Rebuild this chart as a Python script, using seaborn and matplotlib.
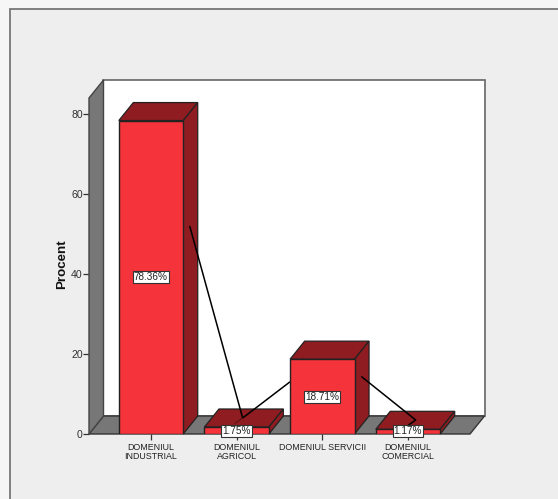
import seaborn as sns
import matplotlib.pyplot as plt
from matplotlib.patches import Polygon, Rectangle
import pandas as pd

categories = ['DOMENIUL\nINDUSTRIAL', 'DOMENIUL\nAGRICOL', 'DOMENIUL SERVICII', 'DOMENIUL\nCOMERCIAL']
values = [78.36, 1.75, 18.71, 1.17]
labels = ['78.36%', '1.75%', '18.71%', '1.17%']
yticks = [0, 20, 40, 60, 80]

# leader lines between labels, in axis units
leader_a_x = [0.453, 1.07, 1.62]
leader_a_y = [51.9, 4.0, 13.0]
leader_b_x = [2.46, 3.09, 3.01]
leader_b_y = [14.3, 3.5, 2.3]
leader_c_x = [1.07, 0.98]
leader_c_y = [4.0, 2.7]

W, H = 558, 499
BG = '#eeeeee'
RED = '#f4333a'
DARK = '#8f1c20'
GREY = '#777777'

sns.set_theme(style='white')
plt.rcParams['font.family'] = ['Liberation Sans', 'DejaVu Sans']

fig = plt.figure(figsize=(W / 100, H / 100), dpi=100, facecolor='#f6f6f6')
fig.add_artist(Rectangle((9.5 / W, -0.1), 1.1, 1.1 - 9.5 / H, transform=fig.transFigure,
                         facecolor=BG, edgecolor='#777777', lw=1.3, zorder=-1))

ax = fig.add_axes([89 / W, 1 - 434 / H, 381 / W, 336 / H])
ax.patch.set_alpha(0)

df = pd.DataFrame({'cat': categories, 'val': values})
sns.barplot(data=df, x='cat', y='val', color=RED, saturation=1, width=0.752,
            edgecolor='#222222', linewidth=1, ax=ax, zorder=5)
ax.set_xlim(-0.724, 3.724)
ax.set_ylim(0, 84)

# depth of the fake 3D box, in data units
dx = 14.5 / (381 / 4.448)
dy = 18 / 4
x0, x1 = ax.get_xlim()
y0, y1 = ax.get_ylim()

def face(pts, color, z, ec='#444444', lw=1):
    ax.add_patch(Polygon(pts, closed=True, facecolor=color, edgecolor=ec, lw=lw,
                         zorder=z, clip_on=False))

bars = list(ax.patches)
face([(x0 + dx, y0 + dy), (x1 + dx, y0 + dy), (x1 + dx, y1 + dy), (x0 + dx, y1 + dy)], 'white', 1, '#666666', 1.2)
face([(x0, y0), (x1, y0), (x1 + dx, y0 + dy), (x0 + dx, y0 + dy)], GREY, 2, '#333333', 1)
face([(x0, y0), (x0 + dx, y0 + dy), (x0 + dx, y1 + dy), (x0, y1)], GREY, 2, '#444444', 1)

hw = 0.752 / 2
for i, v in enumerate(values):
    l, r = i - hw, i + hw
    face([(l, v), (r, v), (r + dx, v + dy), (l + dx, v + dy)], DARK, 4, '#222222', 0.9)
    face([(r, 0), (r + dx, dy), (r + dx, v + dy), (r, v)], DARK, 4, '#222222', 0.9)

ax.plot(leader_a_x, leader_a_y, color='black', lw=1.1, zorder=6, clip_on=False)
ax.plot(leader_b_x, leader_b_y, color='black', lw=1.1, zorder=6, clip_on=False)
ax.plot(leader_c_x, leader_c_y, color='#5a1215', lw=0.8, zorder=6, clip_on=False)
# the third bar hides the line that passes behind it
bars[2].set_zorder(7)

for i, (v, t) in enumerate(zip(values, labels)):
    ax.text(i, max(v / 2, 0.7), t, ha='center', va='center', fontsize=7.2, color='#222222', zorder=9,
            bbox=dict(boxstyle='square,pad=0.1', facecolor='white', edgecolor='#333333', lw=0.8))

ax.set_yticks(yticks)
ax.set_xticks(range(4))
ax.set_xticklabels(categories, fontsize=6.4, color='#222222', linespacing=0.95)
ax.tick_params(axis='y', labelsize=7.6, labelcolor='#333333', length=4, width=0.9, color='#333333', pad=0.5, left=True)
ax.tick_params(axis='x', length=4.5, width=0.9, color='#333333', pad=2.2, bottom=True)
ax.set_xlabel('')
ax.set_ylabel('Procent', fontsize=9.6, fontweight='bold', color='#111111', labelpad=2.5, y=0.505)
sns.despine(ax=ax, left=True, bottom=True, top=True, right=True)

fig.savefig('out.png', dpi=100, facecolor=fig.get_facecolor())
